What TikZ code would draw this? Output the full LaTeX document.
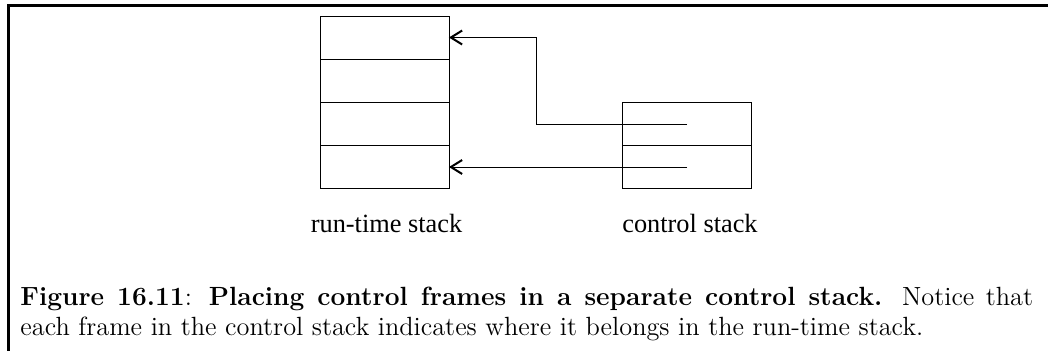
\documentclass[tikz,border=0pt]{standalone}
\usepackage{fontspec}
\newfontfamily\labelfont{Liberation Serif}
\usetikzlibrary{arrows.meta}
\begin{document}
\begin{tikzpicture}[x=0.4444pt,y=-0.4444pt,
  frameline/.style={line width=1.2pt,line cap=rect},
  cell/.style={draw,line width=0.4pt,minimum width=57.3pt,minimum height=19.1pt,inner sep=0pt,outer sep=0pt},
  ptr/.style={line width=0.4pt,-{Straight Barb[length=5pt,width=6.2pt,line width=0.9pt]}},
  stacklabel/.style={font=\labelfont\fontsize{11.7}{14}\selectfont,anchor=base,inner sep=0pt},
  captext/.style={anchor=base west,inner sep=0pt,text width=450pt,align=justify,font=\fontsize{11.7}{13.5}\selectfont}]
\useasboundingbox (0,0) rectangle (1048,350);
% frame
\coordinate (ftl) at (8.5,5.5);
\coordinate (ftr) at (1048,5.5);
\coordinate (fbl) at (8.5,350);
\draw[frameline] (ftr) -- (ftl) -- (fbl);
% run-time stack
\node[cell] (r1) at (384.5,37.5) {};
\node[cell] (r2) at (384.5,80.5) {};
\node[cell] (r3) at (384.5,123.5) {};
\node[cell] (r4) at (384.5,166.5) {};
% control stack
\node[cell] (c1) at (687,124) {};
\node[cell] (c2) at (687,167) {};
% bend point
\coordinate (bend) at (536,124);
\draw[ptr] (c1.center) -- (bend) |- (r1.east);
\draw[ptr] (c2.center) -- (c2.center -| r4.east);
% labels
\node[stacklabel] (l1) at (386.5,232) {run-time stack};
\node[stacklabel] (l2) at (690,232) {control stack};
% caption
\node[captext] (cap) at (20,305) {\textbf{Figure 16.11}: \textbf{Placing control frames in a separate control stack.} Notice that\linebreak each frame in the control stack indicates where it belongs in the run-time stack.};
\end{tikzpicture}
\end{document}
